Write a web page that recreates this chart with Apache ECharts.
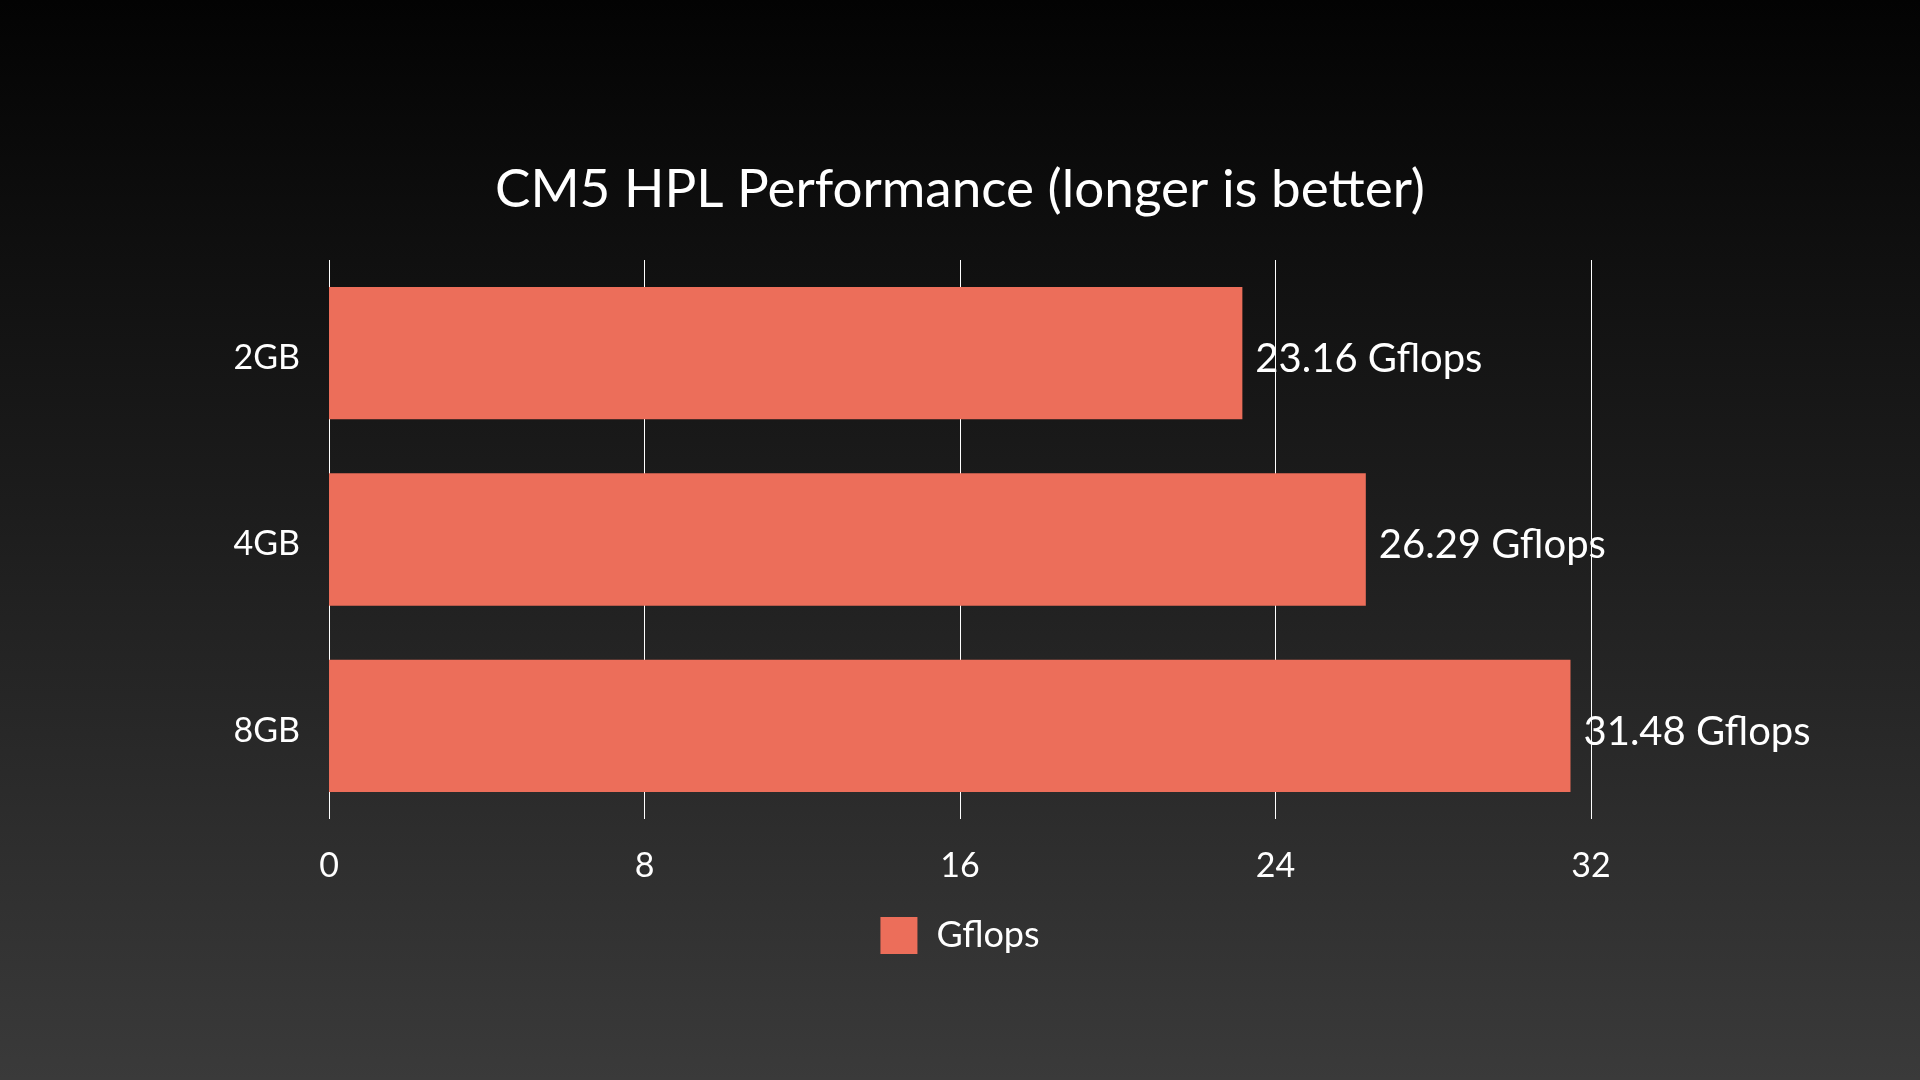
<!DOCTYPE html>
<html>
<head>
<meta charset="utf-8">
<title>CM5 HPL Performance</title>
<script src="https://cdn.jsdelivr.net/npm/echarts@6/dist/echarts.min.js"></script>
<style>
	html, body {
		margin: 0;
		padding: 0;
	}
	#myChart {
		width: 1920px;
		height: 1080px;
		background: linear-gradient(to bottom, #030303 0%, #1e1e1e 50%, #3a3a3a 100%);
	}
</style>
</head>
<body>
<div id="myChart"></div>
<script>
	var categories = ['2GB', '4GB', '8GB'];
	var gflops = [23.16, 26.29, 31.48];
	var xTicks = [0, 8, 16, 24, 32];

	var fontFamily = 'Lato';
	var myChart = echarts.init(document.getElementById('myChart'));

	myChart.setOption({
		backgroundColor: 'transparent',
		textStyle: { fontFamily: fontFamily },
		title: {
			text: 'CM5 HPL Performance (longer is better)',
			left: 'center',
			top: 158,
			textStyle: {
				color: '#ffffff',
				fontSize: 53,
				fontWeight: 'normal',
				fontFamily: fontFamily
			}
		},
		legend: {
			data: [{ name: 'Gflops', icon: 'rect' }],
			bottom: 121,
			left: 'center',
			itemWidth: 37,
			itemHeight: 37,
			itemGap: 20,
			textStyle: {
				color: '#ffffff',
				fontSize: 36,
				padding: [4, 0, 0, 14],
				fontFamily: fontFamily
			}
		},
		grid: {
			left: 329,
			right: 329,
			top: 260,
			bottom: 261,
			containLabel: false
		},
		xAxis: {
			type: 'value',
			min: xTicks[0],
			max: xTicks[xTicks.length - 1],
			interval: 8,
			axisLine: { show: false },
			axisTick: { show: false },
			axisLabel: {
				color: '#ffffff',
				fontSize: 34,
				margin: 30,
				fontFamily: fontFamily
			},
			splitLine: {
				show: true,
				lineStyle: { color: '#ffffff', width: 1 }
			}
		},
		yAxis: {
			type: 'category',
			data: categories,
			inverse: true,
			axisLine: { show: false },
			axisTick: { show: false },
			axisLabel: {
				margin: 29,
				formatter: function (v) {
					return '{c|' + v + '}';
				},
				rich: {
					c: {
						color: '#ffffff',
						fontSize: 34,
						padding: [10, 0, 0, 0],
						fontFamily: fontFamily
					}
				}
			}
		},
		series: [{
			name: 'Gflops',
			type: 'bar',
			data: gflops,
			barCategoryGap: '29%',
			itemStyle: { color: '#ec6e5a' },
			label: {
				show: true,
				position: 'right',
				distance: 13,
				offset: [0, 6],
				color: '#ffffff',
				fontSize: 40,
				fontFamily: fontFamily,
				formatter: function (p) {
					return p.value.toFixed(2) + ' Gflops';
				}
			}
		}]
	});
</script>
</body>
</html>
